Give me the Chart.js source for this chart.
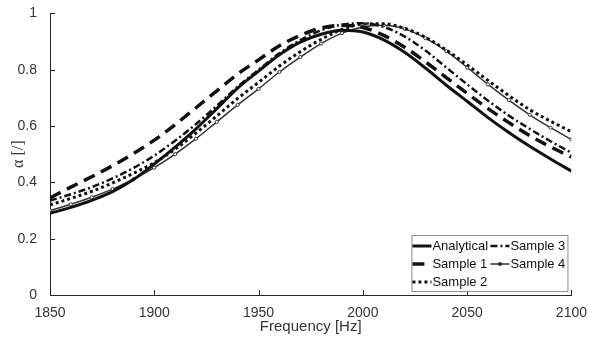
<!DOCTYPE html>
<html lang="en">
<head>
<meta charset="UTF-8">
<title>Absorption coefficient</title>
<script src="https://cdn.jsdelivr.net/npm/chart.js"></script>
<style>
    html, body { margin: 0; padding: 0; background: #fff; }
    #wrap { width: 589px; height: 345px; }
</style>
</head>
<body>
<div id="wrap"><canvas id="chart" width="589" height="345"></canvas></div>
<script>
// Frequency grid [Hz]
const frequencies = [1850, 1860, 1870, 1880, 1890, 1900, 1910, 1920, 1930, 1940, 1950, 1960, 1970,
                     1980, 1990, 2000, 2010, 2020, 2030, 2040, 2050, 2060, 2070, 2080, 2090, 2100];

// absorption coefficient alpha [/]
const analytical = [0.290, 0.311, 0.336, 0.367, 0.410, 0.465, 0.525, 0.590, 0.662, 0.735, 0.795, 0.853, 0.898,
                    0.926, 0.940, 0.934, 0.906, 0.862, 0.806, 0.745, 0.688, 0.630, 0.577, 0.528, 0.483, 0.440];
const sample1 = [0.345, 0.383, 0.420, 0.459, 0.502, 0.550, 0.605, 0.665, 0.725, 0.785, 0.835, 0.885, 0.922,
                 0.948, 0.958, 0.950, 0.922, 0.880, 0.828, 0.772, 0.716, 0.662, 0.612, 0.566, 0.526, 0.490];
const sample2 = [0.320, 0.343, 0.368, 0.398, 0.432, 0.470, 0.518, 0.575, 0.636, 0.698, 0.755, 0.813, 0.864,
                 0.908, 0.943, 0.962, 0.963, 0.947, 0.915, 0.870, 0.817, 0.762, 0.708, 0.658, 0.617, 0.580];
const sample3 = [0.335, 0.358, 0.383, 0.414, 0.451, 0.495, 0.548, 0.607, 0.672, 0.740, 0.800, 0.858, 0.905,
                 0.940, 0.960, 0.965, 0.952, 0.918, 0.868, 0.808, 0.748, 0.690, 0.637, 0.590, 0.546, 0.505];
const sample4 = [0.300, 0.322, 0.347, 0.376, 0.411, 0.452, 0.500, 0.555, 0.615, 0.675, 0.732, 0.792, 0.845,
                 0.893, 0.930, 0.952, 0.958, 0.945, 0.912, 0.866, 0.808, 0.748, 0.692, 0.640, 0.594, 0.552];

// axis ticks
const xTicks = [1850, 1900, 1950, 2000, 2050, 2100];
const yTicks = [0, 0.2, 0.4, 0.6, 0.8, 1];

// legend layout: two columns, MATLAB style
const legendOrder = [['Analytical', 'Sample 3'], ['Sample 1', 'Sample 4'], ['Sample 2']];

const axisColor = '#262626';
const textColor = '#333';
const sans = "'Liberation Sans', Arial, sans-serif";

function points(values) {
    return frequencies.map((f, i) => ({ x: f, y: values[i] }));
}

function series(label, values, style) {
    return Object.assign({
        label: label,
        data: points(values),
        borderColor: '#111',
        backgroundColor: '#111',
        borderWidth: 3,
        pointRadius: 0,
        borderCapStyle: 'butt',
        cubicInterpolationMode: 'monotone',
        fill: false
    }, style);
}

// ticks pointing into the plot, like MATLAB
const inwardTicks = {
    id: 'inwardTicks',
    afterDatasetsDraw(chart) {
        const { ctx, chartArea, scales: { x, y } } = chart;
        ctx.save();
        ctx.strokeStyle = axisColor;
        ctx.lineWidth = 1;
        ctx.beginPath();
        xTicks.forEach(v => {
            const px = Math.round(x.getPixelForValue(v)) + 0.5;
            ctx.moveTo(px, chartArea.bottom);
            ctx.lineTo(px, chartArea.bottom - 5);
        });
        yTicks.forEach(v => {
            const py = Math.round(y.getPixelForValue(v)) + 0.5;
            ctx.moveTo(chartArea.left, py);
            ctx.lineTo(chartArea.left + 5, py);
        });
        ctx.stroke();
        ctx.restore();
    }
};

// boxed legend in lower right corner
const boxLegend = {
    id: 'boxLegend',
    afterDraw(chart) {
        const { ctx, chartArea } = chart;
        const w = 156, h = 56;
        const right = chartArea.right - 4, bottom = chartArea.bottom - 4;
        const left = right - w, top = bottom - h;
        const colX = [left + 1, left + 79];
        const rowH = 18;

        ctx.save();
        ctx.fillStyle = '#fff';
        ctx.fillRect(left, top, w, h);
        ctx.strokeStyle = '#8c8c8c';
        ctx.lineWidth = 1;
        ctx.strokeRect(left + 0.5, top + 0.5, w, h);

        ctx.font = '13px ' + sans;
        ctx.textBaseline = 'middle';
        legendOrder.forEach((row, r) => {
            row.forEach((name, c) => {
                const ds = chart.data.datasets.find(d => d.label === name);
                const x0 = colX[c], yy = top + 11 + r * rowH;
                ctx.save();
                ctx.strokeStyle = ds.borderColor;
                ctx.lineWidth = ds.borderWidth;
                ctx.lineCap = 'butt';
                ctx.setLineDash(ds.borderDash || []);
                ctx.beginPath();
                ctx.moveTo(x0, yy);
                ctx.lineTo(x0 + 19, yy);
                ctx.stroke();
                if (ds.pointRadius > 0) {
                    ctx.setLineDash([]);
                    ctx.fillStyle = ds.borderColor;
                    ctx.beginPath();
                    ctx.arc(x0 + 9.5, yy, 2, 0, Math.PI * 2);
                    ctx.fill();
                }
                ctx.restore();
                ctx.fillStyle = '#111';
                ctx.fillText(name, x0 + 20, yy + 0.5);
            });
        });
        ctx.restore();
    }
};

new Chart(document.getElementById('chart'), {
    type: 'line',
    data: {
        datasets: [
            series('Analytical', analytical, { borderWidth: 3 }),
            series('Sample 1', sample1, { borderWidth: 3.5, borderDash: [12, 7] }),
            series('Sample 2', sample2, { borderWidth: 3, borderDash: [3, 3] }),
            series('Sample 3', sample3, { borderWidth: 2.5, borderDash: [7, 3, 2, 3] }),
            series('Sample 4', sample4, {
                borderWidth: 1.5, borderColor: '#333', backgroundColor: '#fff',
                pointRadius: 1.6, pointBorderWidth: 1, pointBorderColor: '#333', pointBackgroundColor: '#fff'
            })
        ]
    },
    options: {
        responsive: false,
        animation: false,
        devicePixelRatio: 1,
        layout: { padding: { top: 12, right: 17, left: 0, bottom: 0 } },
        plugins: {
            legend: { display: false },
            tooltip: { enabled: false }
        },
        scales: {
            x: {
                type: 'linear',
                min: 1850,
                max: 2100,
                afterFit(scale) { scale.height = 50; },
                afterBuildTicks(scale) { scale.ticks = xTicks.map(v => ({ value: v })); },
                grid: { display: false },
                border: { display: true, color: axisColor, width: 1 },
                ticks: {
                    color: textColor, padding: 2, maxRotation: 0,
                    font: { family: sans, size: 14 },
                    callback: v => String(v)
                },
                title: {
                    display: true,
                    text: 'Frequency [Hz]',
                    color: textColor,
                    font: { family: sans, size: 15 },
                    padding: { top: 0, bottom: 9 }
                }
            },
            y: {
                min: 0,
                max: 1,
                afterFit(scale) { scale.width = 50; },
                afterBuildTicks(scale) { scale.ticks = yTicks.map(v => ({ value: v })); },
                grid: { display: false },
                border: { display: true, color: axisColor, width: 1 },
                ticks: {
                    color: textColor, padding: 5,
                    font: { family: sans, size: 14 },
                    callback: v => String(v)
                },
                title: {
                    display: true,
                    text: 'α [/]',
                    color: textColor,
                    font: { family: "'Liberation Serif', 'Times New Roman', serif", size: 16 },
                    padding: { top: 9, bottom: 0 }
                }
            }
        }
    },
    plugins: [inwardTicks, boxLegend]
});
</script>
</body>
</html>
